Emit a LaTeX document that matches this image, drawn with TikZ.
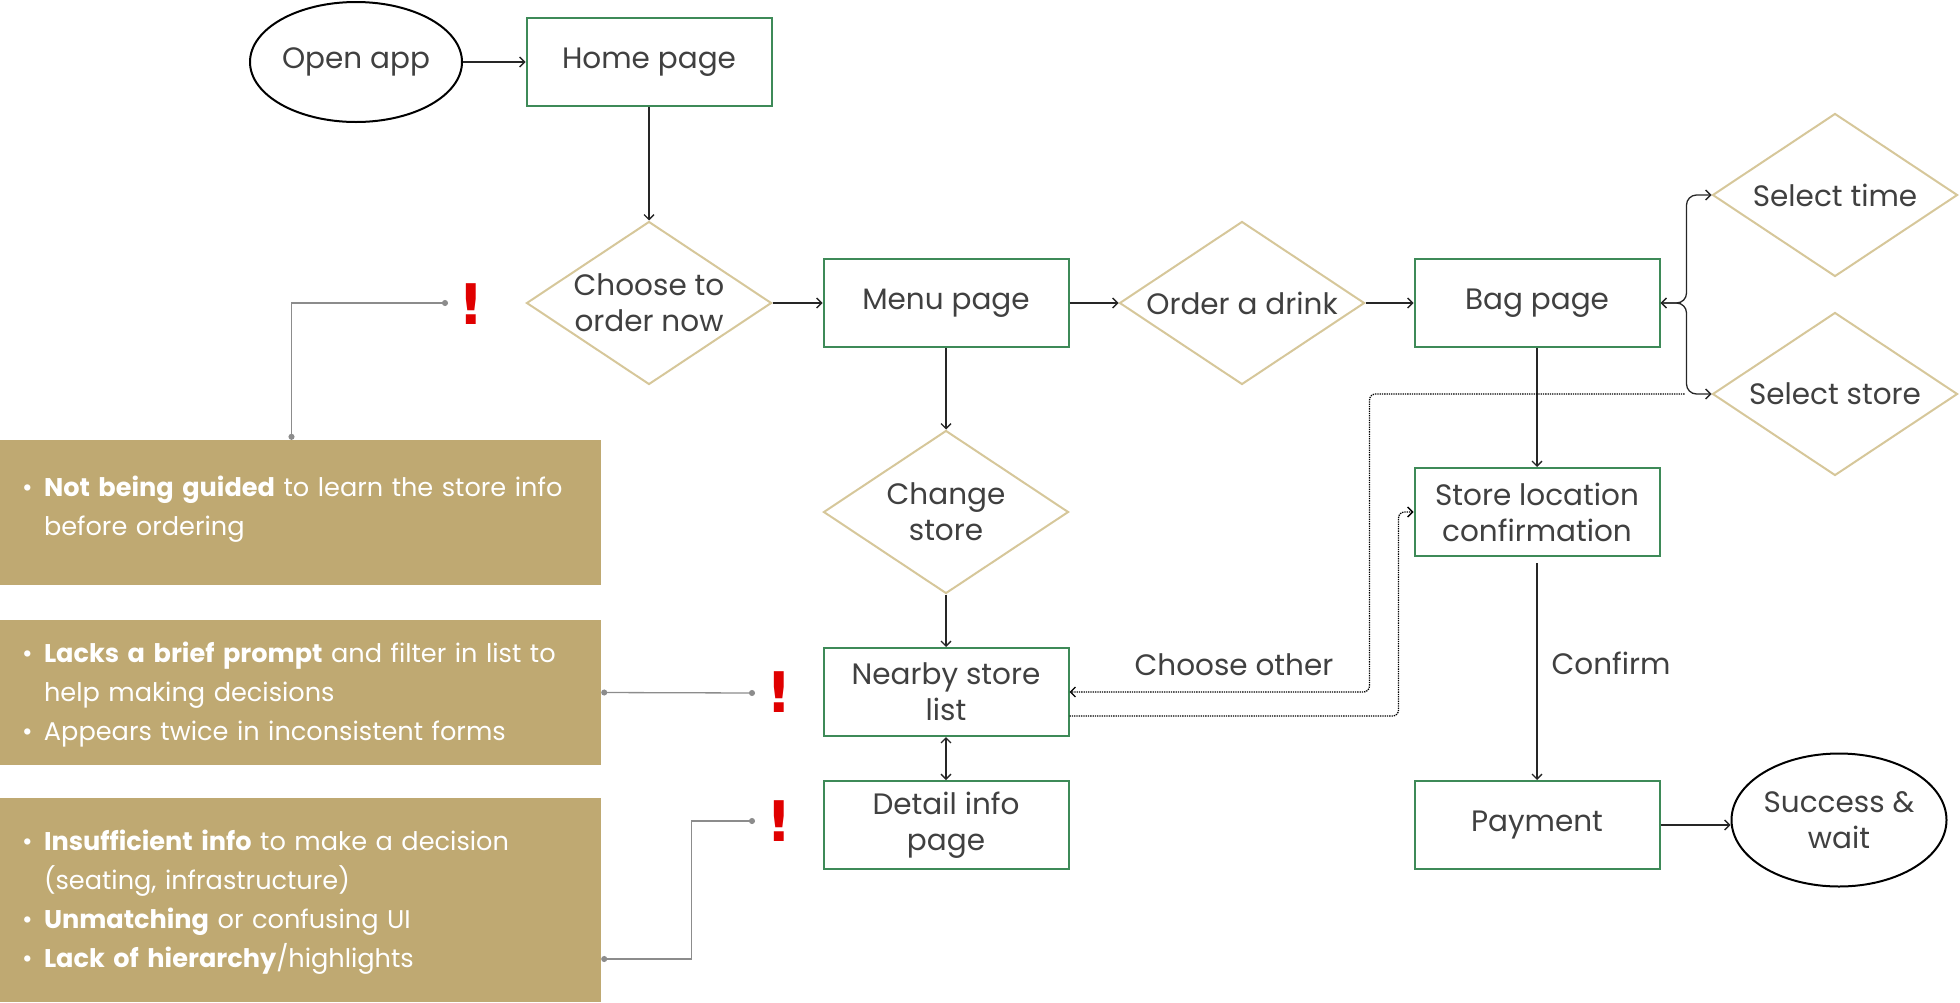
\documentclass[tikz,border=0pt]{standalone}
\usepackage{fontspec}
\setmainfont{Poppins}
\newfontfamily\bangfont{DejaVu Sans}
\usetikzlibrary{shapes.geometric,arrows.meta}

\definecolor{screengreen}{HTML}{3E8A58}
\definecolor{choicetan}{HTML}{D6C79A}
\definecolor{issuegold}{HTML}{BFA972}
\definecolor{inkgray}{HTML}{404040}
\definecolor{warnred}{HTML}{E00000}
\definecolor{pointergray}{HTML}{8C8C8C}

% one bullet line in the gold boxes
\newcommand{\issueitem}[1]{\par\hangindent=33pt\hangafter=1\noindent\hspace*{11pt}\makebox[22pt][l]{\textbullet}#1\par}
\newcommand{\issueend}{\par\kern15pt}

\begin{document}
\begin{tikzpicture}[
            x = 1pt, y = -1pt, % one unit per pixel, y downwards
            > = {Straight Barb[length=5pt,width=10pt]}, % arrow head style
            every node/.style = {text=inkgray, font=\fontsize{29.5}{36}\selectfont},
            screen/.style = {shape=rectangle, draw=screengreen, line width=2pt,
                             minimum width=245pt, minimum height=88pt, align=center},
            choice/.style = {shape=diamond, draw=choicetan, line width=2pt, shape aspect=1.5,
                             inner sep=-7pt, minimum width=245pt, minimum height=163pt, align=center},
            terminal/.style = {shape=ellipse, draw=black, line width=2pt, inner sep=0pt, align=center},
            issue/.style = {shape=rectangle, fill=issuegold, text=white, inner xsep=11pt,
                            minimum width=601pt, text width=579pt, align=left,
                            font=\fontsize{25.6}{39}\selectfont,
                            execute at end node=\issueend},
            bang/.style = {text=warnred, inner sep=0pt, font=\bangfont\bfseries\fontsize{56}{56}\selectfont},
            edgelabel/.style = {inner sep=2pt},
            flow/.style = {draw=black!85, line width=1.3pt},
            detour/.style = {draw=black, line width=1.3pt, densely dotted, rounded corners=6pt},
            pointer/.style = {draw=pointergray, line width=1.3pt, {Circle[length=6pt]}-{Circle[length=6pt]}}
        ]
\useasboundingbox (0,0) rectangle (1960,1002);

% flow
\node[terminal, minimum width=212pt, minimum height=120pt] (open) at (356,62) {Open app};
\node[screen] (home) at (649,62) {Home page};
\node[choice] (choose) at (649,303) {Choose to\\order now};
\node[screen] (menu) at (946,303) {Menu page};
\node[choice] (drink) at (1242,303) {Order a drink};
\node[screen] (bag) at (1537,303) {Bag page};
\node[choice] (time) at (1835,195) {Select time};
\node[choice] (store) at (1835,394) {Select store};
\node[choice] (change) at (946,512) {Change\\store};
\node[screen] (confirm) at (1537,512) {Store location\\confirmation};
\node[screen] (nearby) at (946,692) {Nearby store\\list};
\node[screen] (detail) at (946,825) {Detail info\\page};
\node[screen] (pay) at (1537,825) {Payment};
\node[terminal, minimum width=215pt, minimum height=133pt] (done) at (1839,820) {Success \&\\wait};
\node[edgelabel] (otherlbl) at (1234,665) {Choose other};

\path [flow, ->] (open) edge (home);
\path [flow, ->] (home) edge (choose);
\path [flow, ->] (choose) edge (menu);
\path [flow, ->] (menu) edge (drink);
\path [flow, ->] (drink) edge (bag);
\path [flow, ->] (menu) edge (change);
\path [flow, ->] (change) edge (nearby);
\path [flow, <->] (nearby) edge (detail);
\path [flow, ->] (bag) edge (confirm);
\draw [flow, ->] (pay.east) -- (pay.east -| done.west);
\draw [flow, ->, shorten <=6pt] (confirm) -- node[edgelabel, right=12pt, yshift=5pt] {Confirm} (pay);
\draw [flow, <->, rounded corners=10pt] (bag.east) -- ++(26,0) |- (time.west);
\draw [flow, <->, rounded corners=10pt] (bag.east) -- ++(26,0) |- (store.west);
\draw [detour, ->] ([xshift=-27pt]store.west) -- ++(-315,0) |- (nearby.east);
\draw [detour, ->] ([yshift=-24pt]nearby.east) -- ++(329,0) |- (confirm.west);

% issues
\node[issue, minimum height=145pt] (issueA) at (300.5,512.5)
    {\issueitem{\textbf{Not being guided} to learn the store info\newline before ordering}\kern10pt};
\node[issue, minimum height=145pt] (issueB) at (300.5,692.5)
    {\issueitem{\textbf{Lacks a brief prompt} and filter in list to\newline help making decisions}%
     \issueitem{Appears twice in inconsistent forms}};
\node[issue, minimum height=204pt] (issueC) at (300.5,900)
    {\issueitem{\textbf{Insufficient info} to make a decision\newline (seating, infrastructure)}%
     \issueitem{\textbf{Unmatching} or confusing UI}%
     \issueitem{\textbf{Lack of hierarchy}/highlights}};

\node[bang] (bangA) at (471,304) {!};
\node[bang] (bangB) at (779,692) {!};
\node[bang] (bangC) at (779,821) {!};
\coordinate (warnA) at (448,303);
\coordinate (warnB) at (755,693);
\coordinate (warnC) at (755,821);

\draw [pointer] ([xshift=-9pt]issueA.north) |- (warnA);
\draw [pointer] (issueB.east) -- (warnB);
\draw [pointer] ([yshift=-59pt]issueC.east) -- ++(90,0) |- (warnC);
\end{tikzpicture}
\end{document}
